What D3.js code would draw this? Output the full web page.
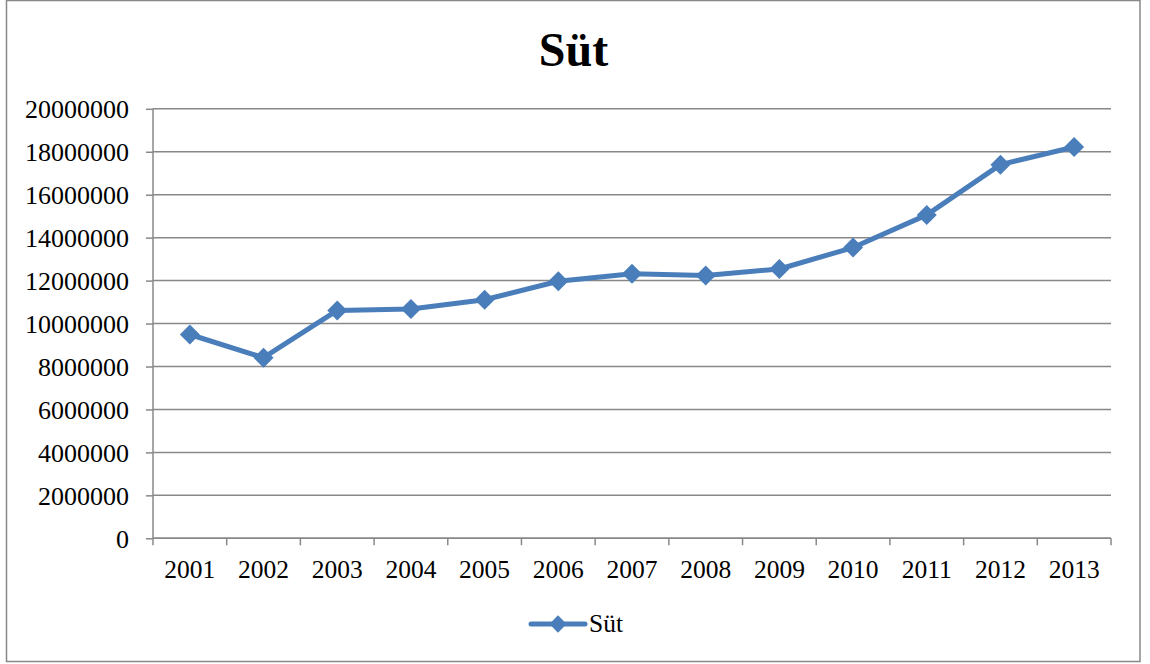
<!doctype html>
<html lang="en">
<head>
  <meta charset="utf-8">
  <title>Süt</title>
  <script src="https://cdn.jsdelivr.net/npm/d3@7"></script>
  <style>
    body{margin:0;background:#fff}
    svg{display:block}
    text{font-family:"Liberation Serif","Times New Roman",serif;fill:#000}
  </style>
</head>
<body>
<div id="container"></div>
<script>
// data
var years = ["2001","2002","2003","2004","2005","2006","2007","2008","2009","2010","2011","2012","2013"];
var sut = [9490000, 8410000, 10610000, 10680000, 11110000, 11970000, 12320000, 12240000, 12540000, 13540000, 15060000, 17400000, 18220000];
var yTicks = [0, 2000000, 4000000, 6000000, 8000000, 10000000, 12000000, 14000000, 16000000, 18000000, 20000000];
var seriesName = "Süt";

var W = 1150, H = 664,
    pLeft = 153, pRight = 1111, pTop = 108.8, pBottom = 538.3,
    blue = "#4a7ebb", grey = "#888888";

var svg = d3.select("#container").append("svg").attr("width", W).attr("height", H)
  .attr("font-family", '"Liberation Serif", serif');

// chart frame
svg.append("rect").attr("x", 6.5).attr("y", 0.5).attr("width", 1133.5).attr("height", 661)
  .attr("fill", "#fff").attr("stroke", grey).attr("stroke-width", 1.5);

svg.append("text").attr("x", 573.5).attr("y", 66).attr("text-anchor", "middle")
  .style("font-size", "48px").style("font-weight", "bold").text(seriesName);

var x = d3.scaleBand().domain(years).range([pLeft, pRight]);
var y = d3.scaleLinear().domain([0, 20000000]).range([pBottom, pTop]);

// gridlines
svg.append("g").selectAll("line").data(yTicks).enter().append("line")
  .attr("x1", pLeft).attr("x2", pRight)
  .attr("y1", function (d) { return y(d); }).attr("y2", function (d) { return y(d); })
  .attr("stroke", grey).attr("stroke-width", 1.5);

// y axis
var yAxis = svg.append("g").attr("transform", "translate(" + pLeft + ",0)")
  .call(d3.axisLeft(y).tickValues(yTicks).tickSize(7).tickPadding(17).tickFormat(d3.format("d")))
  .attr("font-family", '"Liberation Serif", serif').attr("font-size", 26);
yAxis.select(".domain").attr("stroke", grey).attr("stroke-width", 1.5).attr("d", "M0," + pTop + "V" + pBottom);
yAxis.selectAll(".tick line").attr("stroke", grey).attr("stroke-width", 1.5);
yAxis.selectAll(".tick text").attr("dy", "0.34em").attr("fill", "#000");

// x axis with ticks between categories
var bounds = years.map(function (d) { return x(d); }).concat([pRight]);
var xg = svg.append("g");
xg.append("line").attr("x1", pLeft).attr("x2", pRight).attr("y1", pBottom).attr("y2", pBottom)
  .attr("stroke", grey).attr("stroke-width", 1.5);
xg.selectAll("line.tk").data(bounds).enter().append("line").attr("class", "tk")
  .attr("x1", function (d) { return d; }).attr("x2", function (d) { return d; })
  .attr("y1", pBottom).attr("y2", pBottom + 7).attr("stroke", grey).attr("stroke-width", 1.5);
xg.selectAll("text").data(years).enter().append("text")
  .attr("x", function (d) { return x(d) + x.bandwidth() / 2; }).attr("y", 578)
  .attr("text-anchor", "middle").style("font-size", "25.5px").text(function (d) { return d; });

// series
var line = d3.line().x(function (d, i) { return x(years[i]) + x.bandwidth() / 2; }).y(function (d) { return y(d); });
svg.append("path").datum(sut).attr("d", line).attr("fill", "none")
  .attr("stroke", blue).attr("stroke-width", 5).attr("stroke-linejoin", "round");

var diamond = d3.symbol().type(d3.symbolSquare).size(200);
svg.append("g").selectAll("path").data(sut).enter().append("path")
  .attr("d", diamond)
  .attr("transform", function (d, i) { return "translate(" + (x(years[i]) + x.bandwidth() / 2) + "," + y(d) + ") rotate(45)"; })
  .attr("fill", blue);

// legend
var lg = svg.append("g");
lg.append("line").attr("x1", 531).attr("x2", 585).attr("y1", 624).attr("y2", 624)
  .attr("stroke", blue).attr("stroke-width", 5).attr("stroke-linecap", "round");
lg.append("path").attr("d", d3.symbol().type(d3.symbolSquare).size(150))
  .attr("transform", "translate(558,624) rotate(45)").attr("fill", blue);
lg.append("text").attr("x", 589).attr("y", 632).style("font-size", "25.5px").text(seriesName);
</script>
</body>
</html>
